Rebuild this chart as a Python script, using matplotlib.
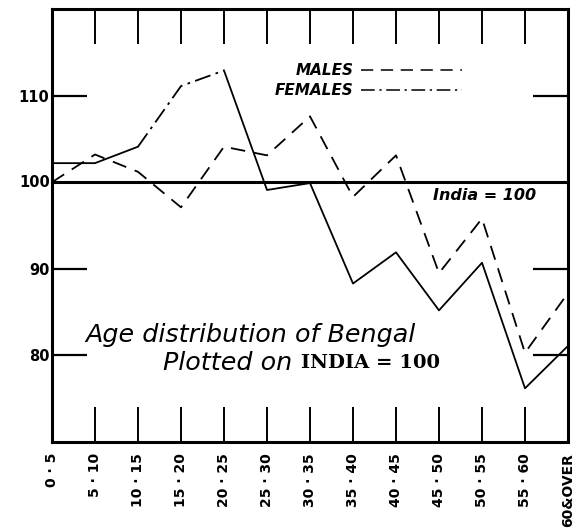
import numpy as np
import matplotlib.pyplot as plt

age_groups = ["0 · 5", "5 · 10", "10 · 15", "15 · 20", "20 · 25", "25 · 30", "30 · 35",
              "35 · 40", "40 · 45", "45 · 50", "50 · 55", "55 · 60", "60&OVER"]
males = [100.0, 103.2, 101.2, 97.1, 104.1, 103.1, 107.6, 98.3, 103.1, 89.5, 95.8, 80.3, 87.2]
females = [102.2, 102.2, 104.1, 111.1, 112.9, 99.1, 99.9, 88.3, 91.9, 85.2, 90.7, 76.2, 81.1]
y_labels = [80, 90, 100, 110]

x = np.arange(len(age_groups))

fig = plt.figure(figsize=(5.82, 5.30), dpi=100)
ax = fig.add_axes([52 / 582, 88 / 530, 516 / 582, 433 / 530])

# india = 100 base line
ax.axhline(100, color="black", lw=2.2, zorder=2)

ax.plot(x, males, color="black", lw=1.3, linestyle=(0, (8, 5)), label="MALES")
# females: solid, with a dash-dot run between 10-15 and 20-25 as drawn
ax.plot(x[:3], females[:3], color="black", lw=1.3)
ax.plot(x[2:5], females[2:5], color="black", lw=1.3, linestyle=(0, (9, 3, 1.5, 3)), label="FEMALES")
ax.plot(x[4:], females[4:], color="black", lw=1.3)

ax.set_xlim(0, len(age_groups) - 1)
ax.set_ylim(70, 120)

ax.set_xticks(x)
ax.set_xticklabels(age_groups, rotation=90, fontsize=10, fontweight="bold")
ax.tick_params(axis="x", direction="in", length=25, width=1.4, top=True, bottom=True, pad=8)
ax.set_yticks([80, 90, 110])
ax.set_yticklabels(["80", "90", "110"], fontsize=10.5, fontweight="bold")
ax.tick_params(axis="y", direction="in", length=25, width=1.6, left=True, right=True, pad=2)
# 100 label sits on the base line
ax.text(-0.004, 100, str(y_labels[2]), transform=ax.get_yaxis_transform(), ha="right", va="center",
        fontsize=10.5, fontweight="bold")

for s in ax.spines.values():
    s.set_linewidth(2.2)

leg = ax.legend(loc="upper left", bbox_to_anchor=(0.405, 0.907), frameon=False, markerfirst=False,
                handlelength=6.6, handletextpad=0.5, labelspacing=0.32,
                prop={"size": 11, "style": "italic", "weight": "bold"})
for h in leg.get_lines():
    h.set_linewidth(1.1)

ax.text(0.739, 0.57, "India = 100", transform=ax.transAxes, fontsize=11.5, style="italic",
        fontweight="bold", va="center", ha="left")
ax.text(0.065, 0.248, "Age distribution of Bengal", transform=ax.transAxes, fontsize=18.3,
        style="italic", va="center", ha="left")
ax.text(0.215, 0.183, "Plotted on", transform=ax.transAxes, fontsize=18.3, style="italic",
        va="center", ha="left")
ax.text(0.483, 0.183, "INDIA = 100", transform=ax.transAxes, fontsize=14, family="DejaVu Serif",
        fontweight="bold", va="center", ha="left")

fig.savefig("out.png", dpi=100)
